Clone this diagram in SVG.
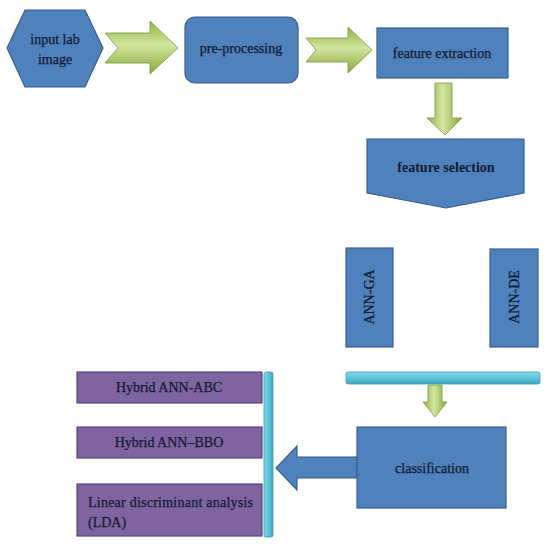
<svg xmlns="http://www.w3.org/2000/svg" width="550" height="548" viewBox="0 0 550 548">
<defs>
<linearGradient id="gh" x1="0" y1="0" x2="0" y2="1">
<stop offset="0" stop-color="#8fb33f"/>
<stop offset="0.45" stop-color="#d4e6a0"/>
<stop offset="1" stop-color="#86a93a"/>
</linearGradient>
<linearGradient id="gv" x1="0" y1="0" x2="1" y2="0">
<stop offset="0" stop-color="#8fb33f"/>
<stop offset="0.45" stop-color="#d4e6a0"/>
<stop offset="1" stop-color="#86a93a"/>
</linearGradient>
<linearGradient id="cy" x1="0" y1="0" x2="0" y2="1">
<stop offset="0" stop-color="#7fe0f0"/>
<stop offset="1" stop-color="#3fa9c0"/>
</linearGradient>
<linearGradient id="cyv" x1="0" y1="0" x2="1" y2="0">
<stop offset="0" stop-color="#7fe0f0"/>
<stop offset="1" stop-color="#3fa9c0"/>
</linearGradient>
</defs>
<style>
.b{fill:#4f81bd;stroke:#3a5f8f;stroke-width:1.2}
.p{fill:#8064a2;stroke:#5a4576;stroke-width:1.2}
.g{stroke:#7a9a3a;stroke-width:0.8}
.t{font-family:"Liberation Serif","Times New Roman",serif;font-size:14px;fill:#101a33;stroke:#101a33;stroke-width:0.25;text-anchor:middle}
.tb{font-weight:bold;stroke-width:0}
</style>
<g id="connectors">
<polygon class="g" fill="url(#gh)" points="105,33 150,33 150,21 178,48 150,74 150,63 105,63 118,48"/>
<polygon class="g" fill="url(#gh)" points="306,38 348,38 348,27 372,50 348,73 348,62 306,62 316,50"/>
<polygon class="g" fill="url(#gv)" points="435,83 452,83 452,118 462,118 445,135 427,118 435,118"/>
<polygon class="g" fill="url(#gv)" points="428,385 442,385 442,402 447,402 435,417 423,402 428,402"/>
<polygon class="b" points="357,457 297,457 297,446 276,468 297,490 297,478 357,478"/>
<rect x="346" y="372" width="194" height="12" rx="2" fill="url(#cy)" stroke="#3b9ab0" stroke-width="0.8"/>
<rect x="264" y="372" width="9" height="165" rx="2" fill="url(#cyv)" stroke="#3b9ab0" stroke-width="0.8"/>
</g>
<g id="input">
<polygon class="b" points="25,10 85,10 103,48 85,87 25,87 7,48"/>
<text class="t" x="55" y="44">input lab</text>
<text class="t" x="55" y="64">image</text>
</g>
<g id="preprocessing">
<rect class="b" x="185" y="17" width="113" height="66" rx="10"/>
<text class="t" x="241" y="53">pre-processing</text>
</g>
<g id="extraction">
<rect class="b" x="377" y="28" width="131" height="50"/>
<text class="t" x="442" y="58">feature extraction</text>
</g>
<g id="selection">
<polygon class="b" points="367,139 524,139 524,193 446,208 367,193"/>
<text class="t tb" x="446" y="172">feature selection</text>
</g>
<g id="ann-ga">
<rect class="b" x="346" y="248" width="47" height="99"/>
<text class="t" transform="translate(374,297) rotate(-90)">ANN-GA</text>
</g>
<g id="ann-de">
<rect class="b" x="490" y="249" width="48" height="98"/>
<text class="t" transform="translate(519,297) rotate(-90)">ANN-DE</text>
</g>
<g id="classification">
<rect class="b" x="357" y="427" width="149" height="81"/>
<text class="t" x="432" y="473">classification</text>
</g>
<g id="abc">
<rect class="p" x="77" y="372" width="185" height="31"/>
<text class="t" x="169" y="392">Hybrid ANN-ABC</text>
</g>
<g id="bbo">
<rect class="p" x="77" y="427" width="185" height="31"/>
<text class="t" x="169" y="447">Hybrid ANN–BBO</text>
</g>
<g id="lda">
<rect class="p" x="77" y="484" width="185" height="52"/>
<text class="t" x="88" y="507" style="text-anchor:start" textLength="165" lengthAdjust="spacing">Linear discriminant analysis</text>
<text class="t" x="88" y="527" style="text-anchor:start">(LDA)</text>
</g>
</svg>
